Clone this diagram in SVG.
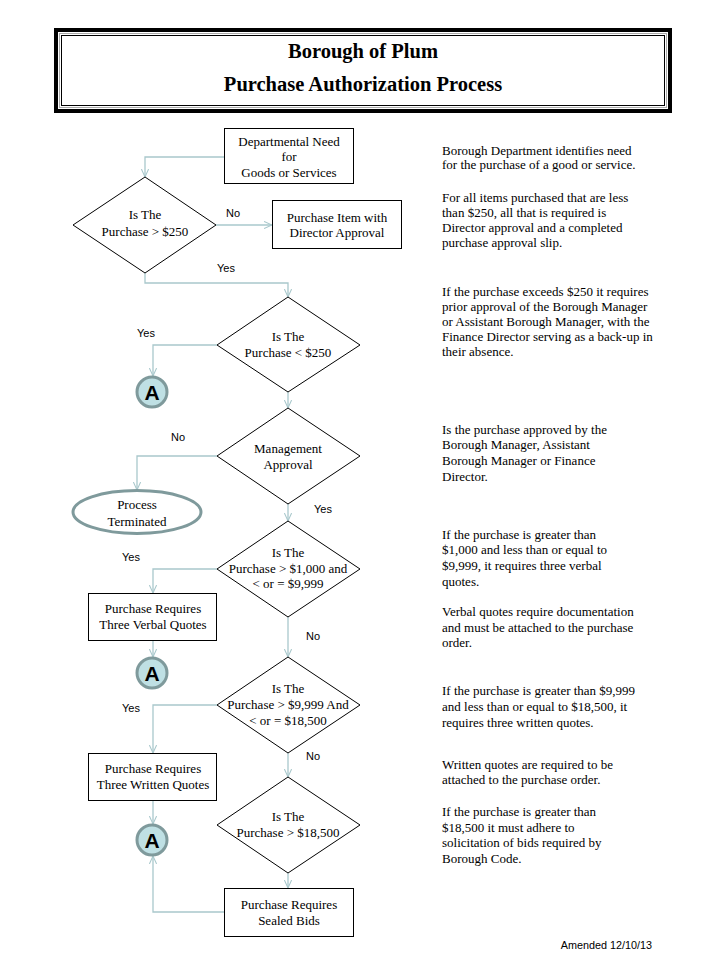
<svg xmlns="http://www.w3.org/2000/svg" width="720" height="960" viewBox="0 0 720 960">
<style>
.box{fill:#fff;stroke:#000;stroke-width:1}
.dia{fill:#fff;stroke:#000;stroke-width:1}
.nt{font-family:"Liberation Serif","Times New Roman",serif;font-size:13px;fill:#000;text-anchor:middle}
.lbl{font-family:"Liberation Sans",Arial,sans-serif;font-size:11px;fill:#000}
.side{font-family:"Liberation Serif","Times New Roman",serif;font-size:13px;fill:#000}
.con{fill:none;stroke:#a9c8cc;stroke-width:1.3}
.circ{fill:#bfe0e4;stroke:#7f9a9c;stroke-width:3}
.ctext{font-family:"Liberation Sans",Arial,sans-serif;font-size:21px;font-weight:bold;fill:#000;text-anchor:middle}
.title{font-family:"Liberation Serif","Times New Roman",serif;font-size:20.5px;font-weight:bold;fill:#000;text-anchor:middle}
</style>
<defs>
<marker id="arr" viewBox="0 0 10 10" refX="10" refY="5" markerWidth="8" markerHeight="8" markerUnits="userSpaceOnUse" orient="auto">
<path d="M0,0.5 L10,5 L0,9.5" fill="none" stroke="#a9c8cc" stroke-width="1.3"/>
</marker>
</defs>
<rect width="720" height="960" fill="#fff"/>
<g id="header">
<rect x="56" y="30" width="614" height="81" fill="#fff" stroke="#000" stroke-width="4"/>
<rect x="59.5" y="33.5" width="607" height="74" fill="none" stroke="#aaa" stroke-width="1"/>
<rect x="61.5" y="35.5" width="603" height="70" fill="none" stroke="#000" stroke-width="1"/>
<text class="title" x="363" y="58">Borough of Plum</text>
<text class="title" x="363" y="91">Purchase Authorization Process</text>
</g>
<g id="connectors">
<path class="con" d="M224,157 H145 V177" marker-end="url(#arr)"/>
<path class="con" d="M216,225 H272" marker-end="url(#arr)"/>
<path class="con" d="M145,273 V283 H288 V297" marker-end="url(#arr)"/>
<path class="con" d="M217,345 H153 V376" marker-end="url(#arr)"/>
<path class="con" d="M288,392 V408" marker-end="url(#arr)"/>
<path class="con" d="M217,456 H137 V490" marker-end="url(#arr)"/>
<path class="con" d="M288,504 V521" marker-end="url(#arr)"/>
<path class="con" d="M217,569 H153 V593" marker-end="url(#arr)"/>
<path class="con" d="M153,640 V657" marker-end="url(#arr)"/>
<path class="con" d="M288,617 V657" marker-end="url(#arr)"/>
<path class="con" d="M217,705 H153 V753" marker-end="url(#arr)"/>
<path class="con" d="M153,801 V824" marker-end="url(#arr)"/>
<path class="con" d="M288,753 V777" marker-end="url(#arr)"/>
<path class="con" d="M288,873 V888" marker-end="url(#arr)"/>
<path class="con" d="M224,912 H153 V856" marker-end="url(#arr)"/>
<text class="lbl" x="226" y="217">No</text>
<text class="lbl" x="217" y="272">Yes</text>
<text class="lbl" x="137" y="337">Yes</text>
<text class="lbl" x="171" y="441">No</text>
<text class="lbl" x="314" y="513">Yes</text>
<text class="lbl" x="122" y="561">Yes</text>
<text class="lbl" x="306" y="640">No</text>
<text class="lbl" x="122" y="712">Yes</text>
<text class="lbl" x="306" y="760">No</text>
</g>
<g id="n_need">
<rect class="box" x="224.5" y="128.5" width="129" height="55"/>
<text class="nt" x="289" y="146">Departmental Need</text>
<text class="nt" x="289" y="161">for</text>
<text class="nt" x="289" y="177">Goods or Services</text>
</g>
<g id="d_250">
<polygon class="dia" points="145,177 216,225 145,273 73,225"/>
<text class="nt" x="145" y="219">Is The</text>
<text class="nt" x="145" y="236">Purchase &gt; $250</text>
</g>
<g id="n_director">
<rect class="box" x="272.5" y="200.5" width="129" height="48"/>
<text class="nt" x="337" y="222">Purchase Item with</text>
<text class="nt" x="337" y="237">Director  Approval</text>
</g>
<g id="d_lt250">
<polygon class="dia" points="288,297 360,345 288,392 217,345"/>
<text class="nt" x="288" y="341">Is The</text>
<text class="nt" x="288" y="357">Purchase &lt; $250</text>
</g>
<g id="a1">
<circle class="circ" cx="152" cy="392" r="15"/>
<text class="ctext" x="152" y="400">A</text>
</g>
<g id="d_mgmt">
<polygon class="dia" points="288,408 360,456 288,504 217,456"/>
<text class="nt" x="288" y="453">Management</text>
<text class="nt" x="288" y="469">Approval</text>
</g>
<g id="n_term">
<ellipse cx="137" cy="512" rx="64" ry="21.5" fill="#fff" stroke="#7f9a9c" stroke-width="3"/>
<text class="nt" x="137" y="509">Process</text>
<text class="nt" x="137" y="526">Terminated</text>
</g>
<g id="d_1000">
<polygon class="dia" points="288,521 360,569 288,617 217,569"/>
<text class="nt" x="288" y="557">Is The</text>
<text class="nt" x="288" y="573">Purchase  &gt; $1,000 and</text>
<text class="nt" x="288" y="588">&lt; or =  $9,999</text>
</g>
<g id="n_verbal">
<rect class="box" x="88.5" y="593.5" width="128" height="47"/>
<text class="nt" x="153" y="613">Purchase Requires</text>
<text class="nt" x="153" y="629">Three  Verbal Quotes</text>
</g>
<g id="a2">
<circle class="circ" cx="152" cy="673" r="15"/>
<text class="ctext" x="152" y="681">A</text>
</g>
<g id="d_9999">
<polygon class="dia" points="288,657 360,705 288,753 217,705"/>
<text class="nt" x="288" y="693">Is The</text>
<text class="nt" x="288" y="709">Purchase &gt; $9,999 And</text>
<text class="nt" x="288" y="725">&lt; or =  $18,500</text>
</g>
<g id="n_written">
<rect class="box" x="88.5" y="753.5" width="128" height="47"/>
<text class="nt" x="153" y="773">Purchase Requires</text>
<text class="nt" x="153" y="789">Three  Written Quotes</text>
</g>
<g id="a3">
<circle class="circ" cx="152" cy="840" r="15"/>
<text class="ctext" x="152" y="848">A</text>
</g>
<g id="d_18500">
<polygon class="dia" points="288,777 360,825 288,873 217,825"/>
<text class="nt" x="288" y="821">Is The</text>
<text class="nt" x="288" y="837">Purchase &gt; $18,500</text>
</g>
<g id="n_sealed">
<rect class="box" x="224.5" y="888.5" width="129" height="48"/>
<text class="nt" x="289" y="909">Purchase Requires</text>
<text class="nt" x="289" y="925">Sealed Bids</text>
</g>
<g id="notes">
<text class="side" x="442" y="155">Borough Department identifies need</text>
<text class="side" x="442" y="169">for the purchase of a good or service.</text>
<text class="side" x="442" y="202">For all items purchased that are less</text>
<text class="side" x="442" y="217">than $250, all that is required is</text>
<text class="side" x="442" y="232">Director  approval and a completed</text>
<text class="side" x="442" y="247">purchase approval slip.</text>
<text class="side" x="442" y="296">If the purchase exceeds $250 it requires</text>
<text class="side" x="442" y="311">prior approval of the Borough Manager</text>
<text class="side" x="442" y="326">or Assistant  Borough Manager, with the</text>
<text class="side" x="442" y="341">Finance Director  serving as a back-up in</text>
<text class="side" x="442" y="356">their absence.</text>
<text class="side" x="442" y="434">Is the purchase approved by the</text>
<text class="side" x="442" y="449">Borough Manager, Assistant</text>
<text class="side" x="442" y="465">Borough Manager or Finance</text>
<text class="side" x="442" y="481">Director.</text>
<text class="side" x="442" y="539">If the purchase is greater than</text>
<text class="side" x="442" y="554">$1,000 and less than or equal to</text>
<text class="side" x="442" y="570">$9,999, it requires three verbal</text>
<text class="side" x="442" y="586">quotes.</text>
<text class="side" x="442" y="616">Verbal quotes require  documentation</text>
<text class="side" x="442" y="632">and must be attached to the purchase</text>
<text class="side" x="442" y="647">order.</text>
<text class="side" x="442" y="695">If the purchase is greater than $9,999</text>
<text class="side" x="442" y="711">and less than or equal to $18,500, it</text>
<text class="side" x="442" y="727">requires three written  quotes.</text>
<text class="side" x="442" y="769">Written quotes are required to be</text>
<text class="side" x="442" y="784">attached  to the purchase order.</text>
<text class="side" x="442" y="816">If the purchase is greater than</text>
<text class="side" x="442" y="832">$18,500 it must adhere to</text>
<text class="side" x="442" y="847">solicitation of bids required by</text>
<text class="side" x="442" y="863">Borough Code.</text>
<text class="lbl" x="652" y="949" text-anchor="end" style="font-size:10.8px">Amended 12/10/13</text>
</g>
</svg>
